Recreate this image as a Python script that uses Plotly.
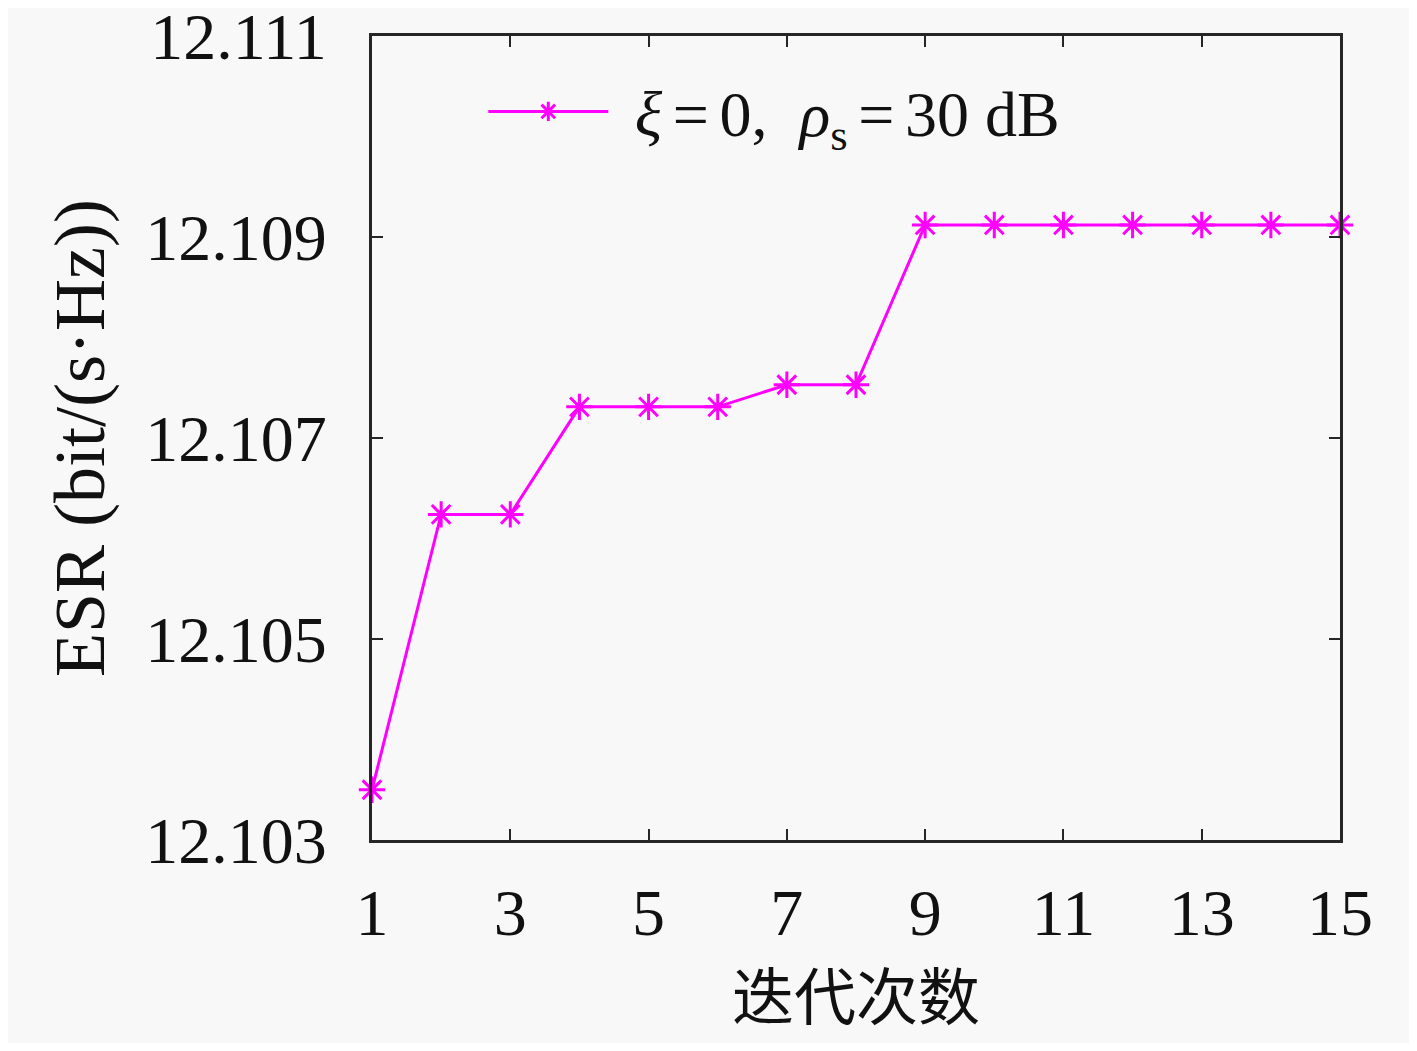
import plotly.graph_objects as go

# data
iterations = list(range(1, 16))
esr = [12.10350, 12.10624, 12.10624, 12.10731, 12.10731, 12.10731,
       12.10753, 12.10753, 12.10912, 12.10912, 12.10912, 12.10912,
       12.10912, 12.10912, 12.10912]

x_ticks = [1, 3, 5, 7, 9, 11, 13, 15]
y_ticks = [12.103, 12.105, 12.107, 12.109, 12.111]
y_tick_labels = ['12.103', '12.105', '12.107', '12.109', '12.111']

x_label = '迭代次数'
y_label = 'ESR (bit/(s·Hz))'

sp = '\u2006'
series_name = ('\u2004<i>ξ</i>' + sp + '=' + sp + '0,  <i>ρ</i><sub>s</sub>'
               + sp + '=' + sp + '30 dB')

serif = 'Liberation Serif, DejaVu Serif, serif'
bg = '#f8f8f8'

fig = go.Figure()
fig.add_trace(go.Scatter(
    x=iterations,
    y=esr,
    mode='lines+markers',
    name=series_name,
    line=dict(color='#ff00ff', width=3),
    marker=dict(symbol='asterisk-open', size=22, color='#ff00ff',
                line=dict(color='#ff00ff', width=3)),
    cliponaxis=False,
))

axis_common = dict(
    showline=True, linecolor='#262626', linewidth=3, mirror='ticks',
    ticks='inside', ticklen=11, tickwidth=2, tickcolor='#262626',
    showgrid=False, zeroline=False, automargin=False,
    ticklabeloverflow='allow',
    tickfont=dict(family=serif, size=66, color='#111111'),
)

fig.update_layout(
    width=1401, height=1035,
    paper_bgcolor=bg, plot_bgcolor=bg,
    margin=dict(l=364, r=69, t=28, b=203),
    showlegend=True,
    legend=dict(x=0.115, y=0.966, xanchor='left', yanchor='top',
                bgcolor='rgba(0,0,0,0)', itemwidth=120,
                font=dict(family=serif, size=64, color='#111111')),
    xaxis=dict(range=[1, 15], tickvals=x_ticks, ticklabelstandoff=13,
               **axis_common),
    yaxis=dict(range=[12.103, 12.111], tickvals=y_ticks, ticktext=y_tick_labels,
               ticklabelstandoff=29,
               title=dict(text=y_label, standoff=18,
                          font=dict(family=serif, size=72, color='#111111')),
               **axis_common),
)

# x title as an annotation, bottom edge kept inside the figure
fig.add_annotation(
    text=x_label, xref='paper', yref='paper', x=0.5, y=-0.248,
    xanchor='center', yanchor='bottom', showarrow=False, borderpad=0,
    font=dict(family='Noto Sans CJK SC', size=62, color='#111111'),
)

fig.write_html('out.html')
